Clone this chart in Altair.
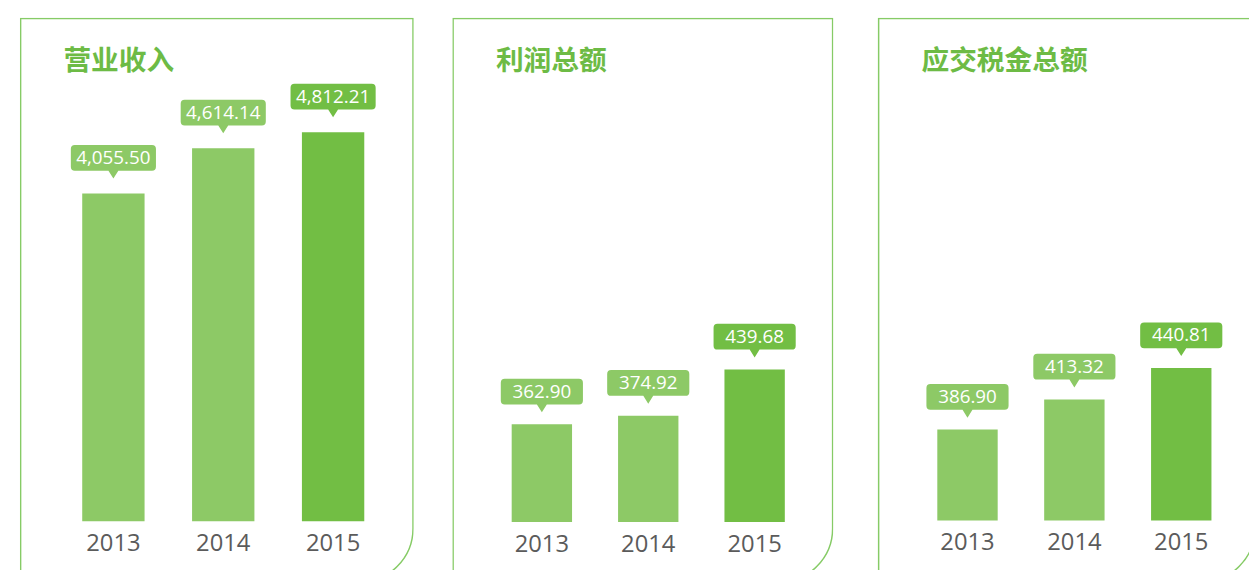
import altair as alt
import pandas as pd

years = ["2013", "2014", "2015"]
titles = ["营业收入", "利润总额", "应交税金总额"]
revenue = [4055.50, 4614.14, 4812.21]
profit = [362.90, 374.92, 439.68]
tax = [386.90, 413.32, 440.81]

LIGHT = "#8DC966"
DARK = "#72BE44"
bar_colors = [LIGHT, LIGHT, DARK]
BORDER = "#86CB66"
TITLE_C = "#6DBB45"

H = 558


def bubble_path(hw, gap):
    r = 4
    b = gap + 8
    t = b + 26
    return (f"M{-hw + r},{-t}H{hw - r}Q{hw},{-t} {hw},{-t + r}V{-b - r}Q{hw},{-b} {hw - r},{-b}"
            f"H5L0,{-gap}L-5,{-b}H{-hw + r}Q{-hw},{-b} {-hw},{-b - r}V{-t + r}Q{-hw},{-t} {-hw + r},{-t}Z")


def panel(title, values, width, base, k, baseline_px, pi, po, align, box_x0, hw, gap):
    df = pd.DataFrame({"year": years, "value": values, "color": bar_colors})
    one = pd.DataFrame({"title": [title]})
    dmin = base - (H - baseline_px) / k
    dmax = dmin + H / k
    x = alt.X("year:N", axis=None,
              scale=alt.Scale(paddingInner=pi, paddingOuter=po, align=align))
    y = alt.Y("value:Q", axis=None,
              scale=alt.Scale(domain=[dmin, dmax], zero=False, nice=False))
    col = alt.Color("color:N", scale=None)
    c = alt.Chart(df)

    box = alt.Chart(one).mark_rect(
        fillOpacity=0, stroke=BORDER, strokeWidth=1.5,
        cornerRadiusBottomRight=54, clip=True
    ).encode(x=alt.value(box_x0 + 0.75), x2=alt.value(box_x0 + 381 if box_x0 else width - 0.75),
             y=alt.value(0.75), y2=alt.value(570))

    ttl = alt.Chart(one).mark_text(
        align="left", baseline="alphabetic", font="Noto Sans CJK SC",
        fontWeight="bold", fontSize=28, color=TITLE_C
    ).encode(x=alt.value(box_x0 + 44), y=alt.value(53), text="title:N")

    bars = c.mark_bar().encode(x=x, y=y, y2=alt.datum(base), color=col)

    bub = c.mark_point(shape=bubble_path(hw, gap), size=4, filled=True, opacity=1,
                       strokeWidth=0).encode(x=x, y=y, color=col)

    vals = c.mark_text(font="Open Sans", fontSize=19, color="white", dy=-(gap + 15),
                       baseline="alphabetic").encode(
        x=x, y=y, text=alt.Text("value:Q", format=",.2f"))

    yrs = c.mark_text(font="Open Sans", fontSize=24, color="#5B5B5B",
                      baseline="alphabetic").encode(
        x=x, y=alt.value(baseline_px + 30), text="year:N")

    return alt.layer(box, ttl, bars, bub, vals, yrs).properties(width=width, height=H)


p1 = panel(titles[0], revenue, 398, 0, 0.0817, 508.7, 0.4324, 0.509, 0.5575, 0, 43, 15)
p2 = panel(titles[1], profit, 385, 225.9, 0.7217, 509.5, 0.4326, 0.507, 0.55, 0, 41.5, 12)
p3 = panel(titles[2], tax, 381, 307.4, 1.1564, 508, 0.435, 0.4814, 0.635, 6, 41.5, 12)

chart = alt.hconcat(p1, p2, p3, spacing=37).configure_view(
    stroke="transparent"
).properties(padding={"left": 11, "top": 6, "right": 0, "bottom": 0})

chart.save("out.html", embed_options={"renderer": "svg", "actions": False})
